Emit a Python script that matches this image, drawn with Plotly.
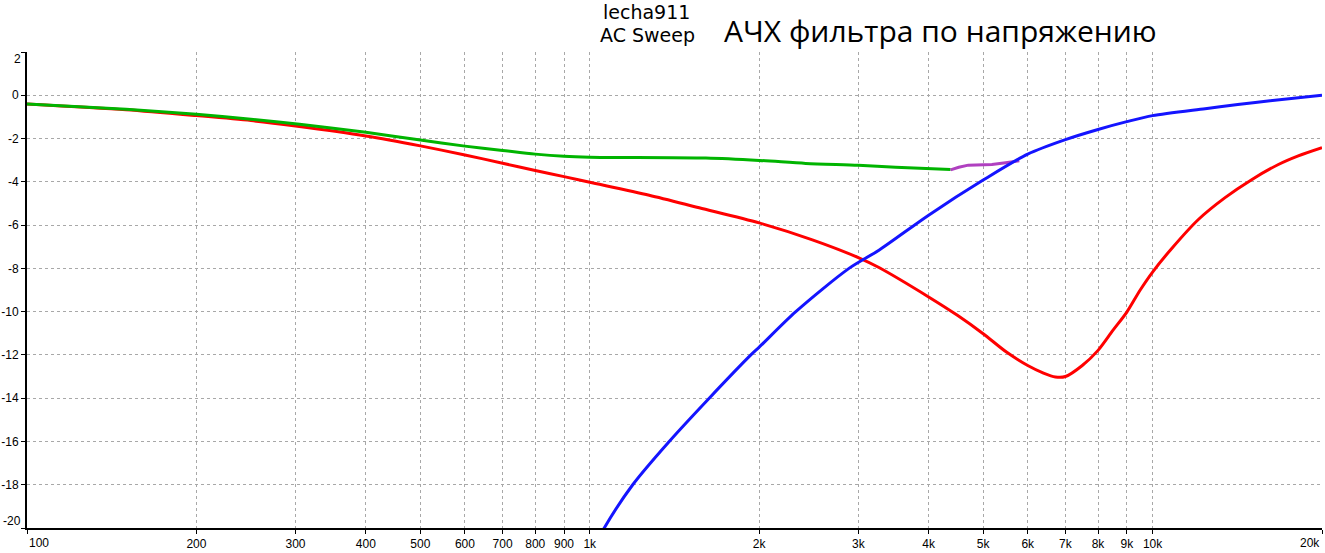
import plotly.graph_objects as go

# ---- data ----
f_red = [100, 150, 200, 250, 300, 400, 500, 600, 700, 800, 900, 1000, 1275, 1565, 2000,
         2486, 3000, 3264, 4000, 4500, 5000, 5500, 6000, 6400, 6718, 7000, 7500, 8000,
         8500, 9000, 9500, 10000, 10815, 12062, 13453, 14997, 16730, 18150, 20000]
v_red = [-0.40, -0.67, -0.94, -1.17, -1.42, -1.88, -2.34, -2.76, -3.14, -3.48, -3.76, -4.02,
         -4.62, -5.20, -5.90, -6.68, -7.50, -7.96, -9.32, -10.17, -11.02, -11.87, -12.49,
         -12.84, -13.02, -13.00, -12.49, -11.79, -10.87, -10.02, -9.01, -8.17, -7.08, -5.74,
         -4.73, -3.90, -3.20, -2.80, -2.42]

f_green = [100, 150, 200, 250, 305, 400, 500, 600, 700, 800, 900, 1000, 1608, 2000, 2419,
           3000, 3494, 4375]
v_green = [-0.40, -0.65, -0.88, -1.11, -1.34, -1.71, -2.07, -2.35, -2.55, -2.72, -2.82,
           -2.86, -2.90, -3.01, -3.15, -3.24, -3.33, -3.43]

f_purple = [4375, 4525, 4705, 5182, 5480, 5797]
v_purple = [-3.45, -3.33, -3.23, -3.20, -3.12, -3.03]

f_blue = [1000, 1061, 1192, 1384, 1630, 1933, 2000, 2323, 2888, 3264, 4000, 5000, 6000,
          7000, 8000, 9000, 10000, 12400, 14170, 16170, 20000]
v_blue = [-21.3, -20.0, -18.0, -16.0, -14.0, -12.0, -11.64, -10.0, -8.0, -7.16, -5.54,
          -3.92, -2.72, -2.05, -1.58, -1.22, -0.94, -0.62, -0.43, -0.25, 0.0]

x_tickvals = [100, 200, 300, 400, 500, 600, 700, 800, 900, 1000, 2000, 3000, 4000, 5000,
              6000, 7000, 8000, 9000, 10000, 20000]
x_ticktext = ["100", "200", "300", "400", "500", "600", "700", "800", "900", "1k", "2k",
              "3k", "4k", "5k", "6k", "7k", "8k", "9k", "10k", "20k"]
y_tickvals = [2, 0, -2, -4, -6, -8, -10, -12, -14, -16, -18, -20]
y_ticktext = ["2", "0", "-2", "-4", "-6", "-8", "-10", "-12", "-14", "-16", "-18", "-20"]

title_top = "lecha911"
title_sub = "AC Sweep"
title_main = "АЧХ фильтра по напряжению"

# ---- figure ----
W, H = 1325, 553
ML, MR, MT, MB = 27, 3, 52, 25
PW, PH = W - ML - MR, H - MT - MB


def px_to_paper_x(px):
    return (px - ML) / PW


def px_to_paper_y(py):
    return 1 - (py - MT) / PH


fig = go.Figure()
line_w = 3
fig.add_trace(go.Scatter(x=f_red, y=v_red, mode="lines",
                         line=dict(color="#FF0000", width=line_w, shape="spline", smoothing=0.8)))
fig.add_trace(go.Scatter(x=f_green, y=v_green, mode="lines",
                         line=dict(color="#00B400", width=line_w, shape="spline", smoothing=0.8)))
fig.add_trace(go.Scatter(x=f_purple, y=v_purple, mode="lines",
                         line=dict(color="#B040C0", width=line_w)))
fig.add_trace(go.Scatter(x=f_blue, y=v_blue, mode="lines",
                         line=dict(color="#1414FF", width=line_w, shape="spline", smoothing=0.8)))

tick_font = dict(family="Liberation Sans, Arial, sans-serif", size=12, color="black")

# edge labels are drawn as annotations so they can be kept inside the frame like the original
edge_x = (x_ticktext[0], x_ticktext[-1])
edge_y = (y_ticktext[0], y_ticktext[-1])
shown_x = [t if t not in edge_x else "" for t in x_ticktext]
shown_y = [t if t not in edge_y else "" for t in y_ticktext]

fig.update_xaxes(type="log", range=[2, 4.30103], tickvals=x_tickvals, ticktext=shown_x,
                 showgrid=True, gridcolor="#A8A8A8", gridwidth=1, griddash="3px,3px",
                 showline=True, linecolor="black", linewidth=1.5,
                 ticks="outside", ticklen=4, tickcolor="black", tickfont=tick_font,
                 zeroline=False, automargin=False)
fig.update_yaxes(range=[-20, 2], tickvals=y_tickvals, ticktext=shown_y,
                 showgrid=True, gridcolor="#A8A8A8", gridwidth=1, griddash="3px,3px",
                 showline=True, linecolor="black", linewidth=2,
                 ticks="outside", ticklen=4, tickcolor="black", tickfont=tick_font,
                 zeroline=False, automargin=False)

head_font = dict(family="DejaVu Sans, Verdana, sans-serif", size=19, color="black")
annos = [
    dict(text=title_top, x=px_to_paper_x(646), y=px_to_paper_y(12), xref="paper", yref="paper",
         showarrow=False, xanchor="center", yanchor="middle", font=head_font),
    dict(text=title_sub, x=px_to_paper_x(647), y=px_to_paper_y(35), xref="paper", yref="paper",
         showarrow=False, xanchor="center", yanchor="middle", font=head_font),
    dict(text=title_main, x=px_to_paper_x(940), y=px_to_paper_y(31), xref="paper", yref="paper",
         showarrow=False, xanchor="center", yanchor="middle",
         font=dict(family="Open Sans, Noto Sans, sans-serif", size=30, color="black")),
    dict(text=x_ticktext[0], x=0, y=px_to_paper_y(543), xref="paper", yref="paper",
         showarrow=False, xanchor="left", yanchor="middle", font=tick_font),
    dict(text=x_ticktext[-1], x=1, y=px_to_paper_y(543), xref="paper", yref="paper",
         showarrow=False, xanchor="right", yanchor="middle", font=tick_font),
    dict(text=y_ticktext[0], x=px_to_paper_x(23), y=px_to_paper_y(59), xref="paper", yref="paper",
         showarrow=False, xanchor="right", yanchor="middle", font=tick_font),
    dict(text=y_ticktext[-1], x=px_to_paper_x(23), y=px_to_paper_y(521), xref="paper", yref="paper",
         showarrow=False, xanchor="right", yanchor="middle", font=tick_font),
]

fig.update_layout(
    width=W, height=H,
    margin=dict(l=ML, r=MR, t=MT, b=MB, autoexpand=False),
    paper_bgcolor="white", plot_bgcolor="white",
    showlegend=False,
    annotations=annos,
    shapes=[dict(type="rect", xref="paper", yref="paper",
                 x0=px_to_paper_x(697), x1=px_to_paper_x(1210),
                 y0=px_to_paper_y(56), y1=px_to_paper_y(48),
                 fillcolor="white", line=dict(width=0), layer="between")],
)

fig.write_html("out.html", config={"displayModeBar": False},
               post_script="document.body.style.margin='0';document.body.style.overflow='hidden';")
